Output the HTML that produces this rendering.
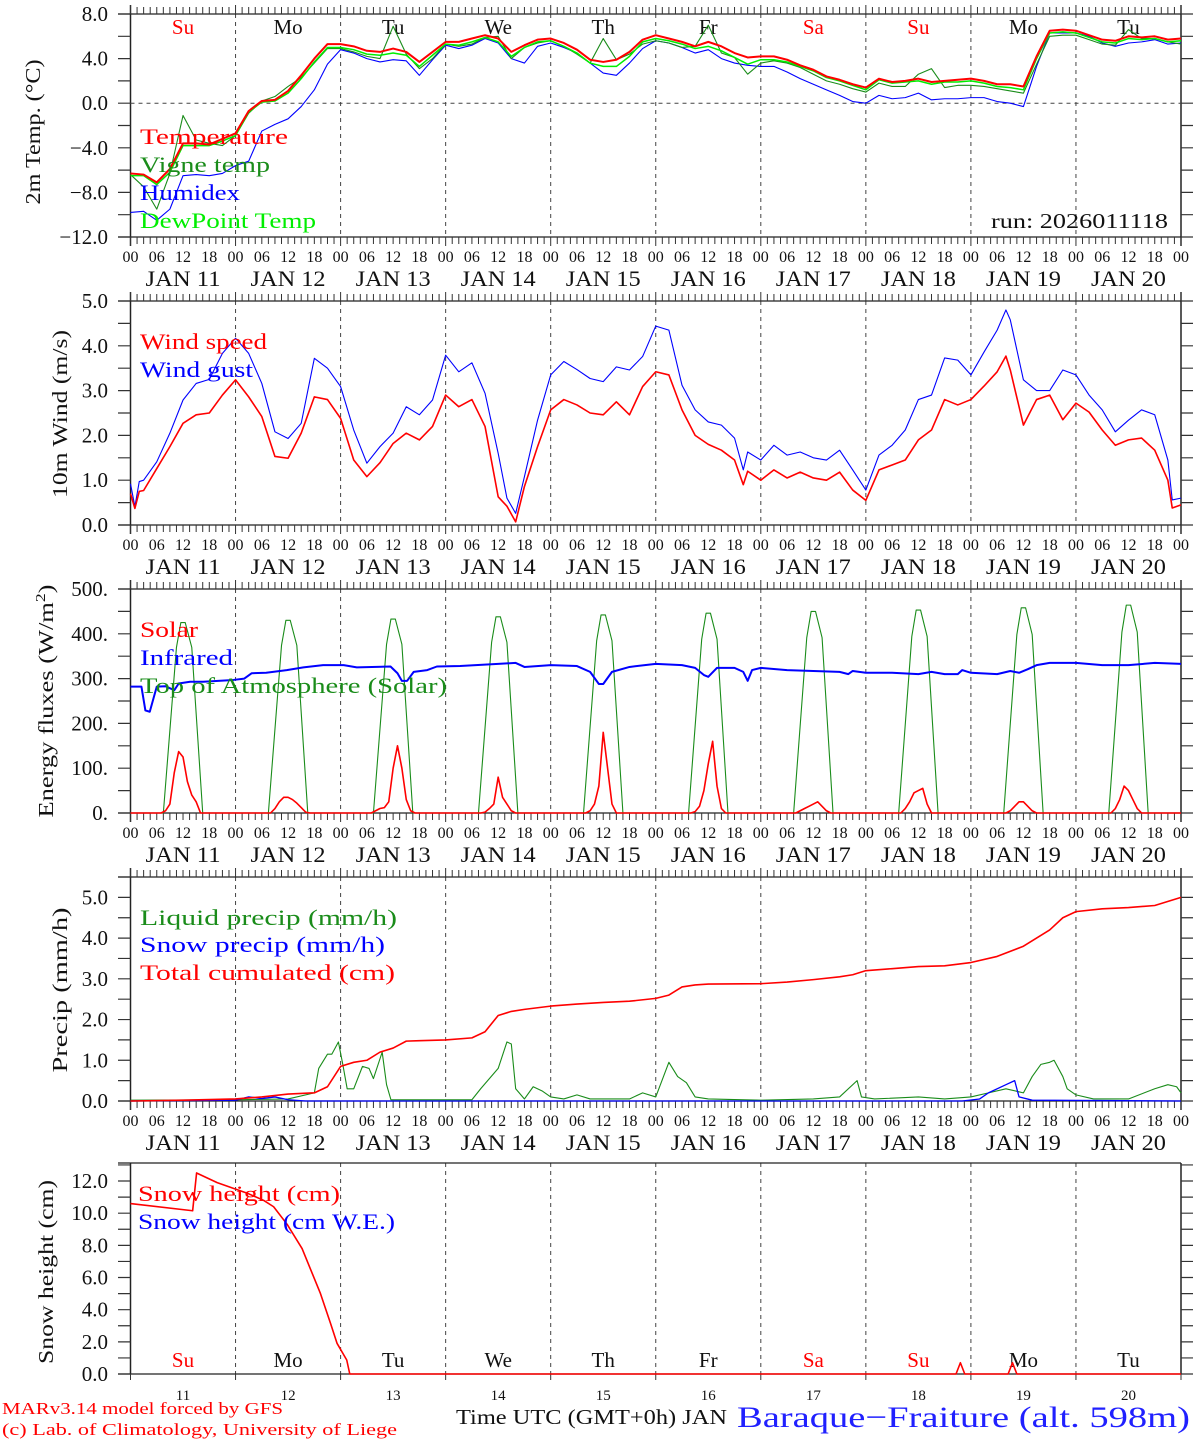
<!DOCTYPE html>
<html><head><meta charset="utf-8"><title>MAR forecast Baraque-Fraiture</title>
<style>
html,body{margin:0;padding:0;background:#fff;}
svg{display:block;font-family:"Liberation Serif",serif;}
</style></head>
<body>
<svg id="chart" width="1194" height="1440" viewBox="0 0 1194 1440" xmlns="http://www.w3.org/2000/svg">
<rect x="0" y="0" width="1194" height="1440" fill="#fff"/>
</svg>
<script>
// ---------- DATA ----------
const dayDates = ["11","12","13","14","15","16","17","18","19","20"];
const dayNames = ["Su","Mo","Tu","We","Th","Fr","Sa","Su","Mo","Tu"];
const dayNameRed = [true,false,false,false,false,false,true,true,false,false];
const hourLabels = ["00","06","12","18"];

// Panel 1: temperatures, 3-hourly from 0 to 240 h
const tempHours = [0,3,6,9,12,15,18,21,24,27,30,33,36,39,42,45,48,51,54,57,60,63,66,69,72,75,78,81,84,87,90,93,96,99,102,105,108,111,114,117,120,123,126,129,132,135,138,141,144,147,150,153,156,159,162,165,168,171,174,177,180,183,186,189,192,195,198,201,204,207,210,213,216,219,222,225,228,231,234,237,240];
const tempVals = [-6.3,-6.4,-7.1,-5.9,-3.6,-3.6,-3.7,-3.2,-2.7,-0.7,0.2,0.3,1.1,2.5,4.0,5.3,
 5.3,5.1,4.7,4.6,4.9,4.6,3.7,4.6,5.5,5.5,5.8,6.1,5.8,4.6,5.2,5.7,5.8,5.4,4.8,3.9,3.7,3.9,4.6,5.7,6.1,5.8,5.5,5.1,5.5,5.1,4.5,4.1,
 4.2,4.2,3.9,3.4,3.0,2.4,2.1,1.7,1.4,2.2,1.9,2.0,2.2,1.9,2.0,2.1,2.2,2.0,1.7,1.7,1.5,4.2,6.5,6.6,6.5,6.1,5.7,5.6,6.0,5.9,6.0,5.7,5.8];
const vigneVals = [-6.4,-7.5,-9.5,-6.3,-1.1,-3.3,-3.6,-3.8,-2.9,-0.9,0.2,0.6,1.5,2.3,3.6,4.9,
 4.9,4.6,4.2,4.0,6.9,4.4,3.1,4.0,5.3,5.1,5.3,5.9,6.0,4.0,5.0,5.4,5.6,5.1,4.4,3.6,5.8,3.9,4.4,5.3,5.6,5.4,5.0,5.1,7.0,4.5,4.1,2.6,
 3.6,3.8,3.6,3.2,2.6,2.0,1.7,1.3,1.0,1.8,1.5,1.5,2.6,3.1,1.4,1.6,1.6,1.5,1.3,1.1,0.9,3.5,6.0,6.1,6.1,5.7,5.3,5.2,6.6,5.8,5.8,5.5,5.3];
const humidexVals = [-9.8,-9.7,-10.5,-9.5,-6.5,-6.4,-6.5,-6.3,-5.6,-5.2,-2.5,-1.9,-1.4,-0.3,1.2,3.5,
 4.8,4.5,4.0,3.7,3.9,3.8,2.5,3.9,5.2,4.9,5.2,5.8,5.4,4.0,3.6,5.1,5.4,5.0,4.5,3.6,2.7,2.5,3.6,4.9,5.6,5.4,5.0,4.5,4.8,4.0,3.6,3.4,
 3.3,3.3,2.8,2.2,1.7,1.2,0.7,0.15,0.0,0.7,0.4,0.5,0.9,0.3,0.4,0.4,0.5,0.5,0.15,0.0,-0.3,3.3,6.3,6.3,6.3,6.0,5.4,5.1,5.4,5.5,5.7,5.3,5.4];
const dewVals = [-6.5,-6.5,-7.3,-6.2,-3.8,-3.8,-3.8,-3.4,-2.9,-0.8,0.1,0.2,0.9,2.2,3.7,5.0,
 5.0,4.8,4.4,4.3,4.5,4.3,3.3,4.3,5.3,5.2,5.5,5.9,5.5,4.2,5.0,5.5,5.6,5.1,4.5,3.6,3.3,3.3,4.2,5.5,5.8,5.6,5.3,4.9,5.1,4.7,4.1,3.5,
 3.9,3.9,3.7,3.3,2.9,2.3,2.0,1.6,1.2,2.1,1.8,1.9,2.0,1.7,1.9,1.9,2.0,1.8,1.5,1.4,1.2,4.0,6.3,6.4,6.3,5.9,5.5,5.4,5.8,5.7,5.8,5.5,5.6];
const tempTicks = [-12,-8,-4,0,4,8];
const tempTickLabels = ["\u221212.0","\u22128.0","\u22124.0","0.0","4.0","8.0"];

// Panel 2: wind
const windHours = [0,1,2,3,6,9,12,15,18,21,24,27,30,33,36,39,42,45,48,51,54,57,60,63,66,69,72,75,78,81,84,86,88,90,93,96,99,102,105,108,111,114,117,120,123,126,129,132,135,138,140,141,144,147,150,153,156,159,162,165,168,171,174,177,180,183,186,189,192,195,198,200,201,204,207,210,213,216,219,222,225,228,231,234,237,238,240];
const windSpeed = [0.7,0.37,0.75,0.77,1.26,1.75,2.27,2.46,2.5,2.9,3.24,2.86,2.42,1.53,1.49,2.05,2.86,2.8,2.38,1.45,1.08,1.39,1.82,2.05,1.9,2.2,2.9,2.64,2.8,2.2,0.63,0.42,0.07,0.86,1.75,2.57,2.8,2.68,2.5,2.46,2.75,2.46,3.09,3.42,3.35,2.57,2.0,1.8,1.67,1.45,0.9,1.2,1.0,1.23,1.05,1.18,1.05,1.0,1.18,0.78,0.55,1.23,1.34,1.45,1.9,2.12,2.8,2.68,2.8,3.1,3.42,3.77,3.46,2.23,2.8,2.9,2.35,2.72,2.52,2.12,1.78,1.9,1.94,1.67,1.0,0.38,0.45];
const windGust = [0.92,0.41,0.97,1.0,1.41,2.05,2.79,3.16,3.25,3.83,4.17,3.83,3.16,2.08,1.93,2.27,3.72,3.5,3.09,2.12,1.38,1.75,2.05,2.64,2.46,2.79,3.79,3.42,3.62,2.94,1.6,0.6,0.26,1.08,2.34,3.35,3.65,3.47,3.27,3.2,3.53,3.46,3.76,4.44,4.35,3.12,2.57,2.3,2.23,1.94,1.23,1.63,1.45,1.78,1.56,1.63,1.5,1.45,1.67,1.23,0.78,1.56,1.78,2.12,2.8,2.9,3.73,3.68,3.35,3.86,4.35,4.8,4.58,3.24,3.0,3.0,3.46,3.35,2.9,2.57,2.08,2.34,2.57,2.46,1.45,0.56,0.6];
const windTicks = [0,1,2,3,4,5];
const windTickLabels = ["0.0","1.0","2.0","3.0","4.0","5.0"];

// Panel 3: energy fluxes
const solarHours = [7,8,9,10,11,12,13,14,15,16,17];
const solarDay11 = [0,5,20,90,137,125,70,40,25,0,0];
const solarDay12 = [0,0,10,25,35,35,30,22,12,2,0];
const solarDay13 = [0,5,10,12,25,100,150,100,30,5,0];
const solarDay14 = [0,0,2,10,20,80,35,20,5,0,0];
const solarDay15 = [0,0,5,20,60,180,100,20,0,0,0];
const solarDay16 = [0,0,3,15,50,110,160,60,10,0,0];
const solarDay17 = [0,0,5,10,15,20,25,15,5,0,0];
const solarDay18 = [0,0,10,25,45,50,55,20,0,0,0];
const solarDay19 = [0,0,5,15,25,25,15,5,0,0,0];
const solarDay20 = [0,0,10,30,60,50,30,10,0,0,0];
const toaPeak = [425,430,433,438,442,446,450,453,458,464];
const toaProfileHours = [7.5,10.5,11.5,12.5,14,16.5];
const toaProfile = [0,0.87,1,1,0.87,0];
const irHours = [0,2.5,3.4,4.4,6,8,10,11,13.6,16.6,23.5,26,27.7,31,35.7,39.5,44,48.7,51.7,59.4,61,62,63.2,64.7,67.8,70,75.3,84,88,90,96,102,105,107,108,110,114,120,126,129,131,132,134,138,140,141,142,144,150,156,162,164,165,168,174,180,183,186,189,190,192,198,201,203,205,207,210,216,222,228,234,240];
const irVals = [282,282,229,226,282,283,274,289,293,293,297,300,312,313,319,325,330,330,325,327,312,295,295,315,319,327,328,333,335,326,330,328,315,288,288,315,326,333,330,324,308,304,324,324,315,295,319,324,319,317,315,310,317,313,313,310,315,310,310,319,313,310,317,313,321,330,335,335,330,330,335,333];
const energyTicks = [0,100,200,300,400,500];
const energyTickLabels = ["0.","100.","200.","300.","400.","500."];

// Panel 4: precip
const cumHours = [0,12,24,30,36,42,45,48,51,54,57,60,63,66,72,78,81,84,87,90,96,102,108,114,120,123,126,129,132,144,150,156,162,165,168,174,180,186,192,198,204,207,210,213,216,222,228,234,240];
const cumVals = [0,0.02,0.05,0.1,0.17,0.2,0.35,0.85,0.95,1.0,1.2,1.3,1.47,1.48,1.5,1.55,1.7,2.1,2.2,2.25,2.33,2.38,2.42,2.45,2.52,2.6,2.8,2.85,2.87,2.88,2.92,2.98,3.05,3.1,3.2,3.25,3.3,3.32,3.4,3.55,3.8,4.0,4.2,4.5,4.65,4.72,4.75,4.8,5.0];
const liqHours = [0,24,36,42,43,45,46,47.5,48.5,49.5,51,53,54.5,55.5,57.5,58.5,59.5,78,80,84,86,87,88,90,92,94,96,99,102,105,108,114,117,120,123,125,127,129,132,144,156,162,166,167,170,180,186,192,196,200,204,206,208,210,211,213,214,216,220,228,234,237,239,240];
const liqVals = [0.02,0.03,0.05,0.2,0.8,1.15,1.15,1.45,0.9,0.3,0.3,0.85,0.8,0.55,1.2,0.4,0.03,0.03,0.3,0.8,1.45,1.4,0.3,0.05,0.35,0.25,0.1,0.05,0.15,0.05,0.05,0.05,0.2,0.1,0.95,0.6,0.45,0.1,0.05,0.02,0.05,0.1,0.5,0.1,0.05,0.1,0.05,0.1,0.2,0.3,0.2,0.6,0.9,0.95,1.0,0.6,0.3,0.15,0.05,0.05,0.3,0.4,0.35,0.2];
const snowPrHours = [0,24,27,30,33,36,40,190,194,196,200,202,203,206,240];
const snowPrVals = [0,0.02,0.1,0.06,0.1,0.03,0,0,0.05,0.2,0.4,0.5,0.1,0.02,0];
const precipTicks = [0,1,2,3,4,5];
const precipTickLabels = ["0.0","1.0","2.0","3.0","4.0","5.0"];

// Panel 5: snow height
const shHours = [0,14.2,15.1,19.8,26.6,30.4,32.7,35.8,39.2,43.4,45.7,47.2,49.4,50.1,188.6,189.6,190.6,200.5,201.5,202.5,240];
const shVals = [10.6,10.15,12.5,11.9,11.25,10.8,10.4,9.3,7.8,5.0,3.15,1.9,0.87,0,0,0.7,0,0,0.7,0,0];
const snowTicks = [0,2,4,6,8,10,12];
const snowTickLabels = ["0.0","2.0","4.0","6.0","8.0","10.0","12.0"];

// ---------- RENDER ----------
const NS = "http://www.w3.org/2000/svg";
const svg = document.getElementById("chart");
const X0 = 130.5, XW = 1050.5, XR = X0 + XW;
function xOf(h){ return X0 + h * XW / 240; }
function mk(tag, attrs, parent){
  const e = document.createElementNS(NS, tag);
  for (const k in attrs) e.setAttribute(k, attrs[k]);
  (parent || svg).appendChild(e);
  return e;
}
function txt(s, attrs, parent){ const e = mk("text", attrs, parent); e.textContent = s; return e; }

const panels = [
  {top:14, bot:237, min:-12, max:8},
  {top:301, bot:525, min:0, max:5},
  {top:589, bot:813, min:0, max:500},
  {top:877, bot:1101, min:0, max:5.5},
  {top:1163, bot:1374, min:0, max:13.12}
];
function yOf(p, v){ return p.bot - (v - p.min) / (p.max - p.min) * (p.bot - p.top); }

function drawLine(p, hours, vals, color, w, name){
  let d = "";
  for (let i = 0; i < hours.length; i++){
    d += (i ? "L" : "M") + xOf(hours[i]).toFixed(2) + "," + yOf(p, vals[i]).toFixed(2);
  }
  const e = mk("path", {d:d, fill:"none", stroke:color, "stroke-width":w, "stroke-linejoin":"round"});
  
  
  return e;
}

function drawFrame(p, idx, opts){
  const g = mk("g", {});
  
  
  for (let d = 1; d < 10; d++){
    const x = xOf(d*24);
    const l = mk("line", {x1:x, x2:x, y1:p.top, y2:p.bot, stroke:"#444", "stroke-width":1, "stroke-dasharray":"4,4"}, g);
    
    
  }
  mk("line", {x1:118, x2:XR, y1:p.top, y2:p.top, stroke:"#222", "stroke-width":1.2}, g);
  mk("line", {x1:118, x2:XR, y1:p.bot, y2:p.bot, stroke:"#222", "stroke-width":1.2}, g);
  const yt = opts.tickbars ? p.top - 9 : p.top;
  const yb = opts.tickbars ? p.bot + 9 : p.bot;
  mk("line", {x1:X0, x2:X0, y1:yt, y2:yb, stroke:"#222", "stroke-width":1.5}, g);
  mk("line", {x1:XR, x2:XR, y1:yt, y2:yb, stroke:"#222", "stroke-width":1.5}, g);
  if (opts.tickbars){
    let d = "";
    for (let i = 0; i <= 160; i++){
      const x = xOf(i*1.5).toFixed(2);
      const major = (i % 16 === 0);
      d += "M" + x + "," + (p.top - (major ? 9 : 7)) + "V" + p.top;
      d += "M" + x + "," + p.bot + "V" + (p.bot + (major ? 9 : 7));
    }
    mk("path", {d:d, stroke:"#333", "stroke-width":1, fill:"none"}, g);
  } else {
    let d = "";
    for (let i = 0; i <= 10; i++){ const x = xOf(i*24).toFixed(2); d += "M" + x + "," + p.bot + "V" + (p.bot + 6); }
    mk("path", {d:d, stroke:"#333", "stroke-width":1, fill:"none"}, g);
  }
  let d = "";
  for (let v = opts.minorStart; v <= opts.maxTick + 1e-9; v += opts.minorStep){
    const y = yOf(p, v).toFixed(2);
    d += "M118," + y + "H" + X0 + "M" + XR + "," + y + "H1193";
  }
  mk("path", {d:d, stroke:"#333", "stroke-width":1.2, fill:"none"}, g);
  for (let i = 0; i < opts.ticks.length; i++){
    const t = txt(opts.labels[i], {x:108, y:yOf(p, opts.ticks[i]) + 7, "text-anchor":"end", "font-size":21, fill:"#111"});
    
    
  }
  if (opts.hourLabels){
    for (let i = 0; i <= 40; i++){
      const t = txt(hourLabels[i % 4], {x:xOf(i*6), y:p.bot + 25, "text-anchor":"middle", "font-size":16, fill:"#111"});
      
      
    }
    for (let dd = 0; dd < 10; dd++){
      const t = txt("JAN " + dayDates[dd], {x:xOf(dd*24+12), y:p.bot + 49, "text-anchor":"middle", "font-size":22, fill:"#111", textLength:75, lengthAdjust:"spacingAndGlyphs"});
      
      
    }
  }
}

function yTitle(s, x, cy, len, extra){
  const t = txt(s, {x:0, y:0, "text-anchor":"middle", "font-size":21, fill:"#111", transform:"translate(" + x + "," + cy + ") rotate(-90)", textLength:len, lengthAdjust:"spacingAndGlyphs"});
  
  
  return t;
}
function legend(s, x, y, len, color, name){
  const t = txt(s, {x:x, y:y, "font-size":22, fill:color, textLength:len, lengthAdjust:"spacingAndGlyphs"});
  
  
  return t;
}
function dayNamesRow(y){
  for (let d = 0; d < 10; d++){
    const t = txt(dayNames[d], {x:xOf(d*24+12), y:y, "text-anchor":"middle", "font-size":21, fill: dayNameRed[d] ? "#ff0000" : "#111"});
    
    
  }
}

// Panel 1
const P1 = panels[0];
drawFrame(P1, 0, {tickbars:true, ticks:tempTicks, labels:tempTickLabels, minorStart:-12, minorStep:2, maxTick:8, hourLabels:true});
const zl = mk("line", {x1:X0, x2:XR, y1:yOf(P1,0), y2:yOf(P1,0), stroke:"#444", "stroke-width":1, "stroke-dasharray":"4,4"});


dayNamesRow(34);
drawLine(P1, tempHours, humidexVals, "#0000ff", 1.1, "humidex-line");
drawLine(P1, tempHours, vigneVals, "#1a8c1a", 1.1, "vigne-temp-line");
drawLine(P1, tempHours, dewVals, "#00ee00", 1.5, "dewpoint-line");
drawLine(P1, tempHours, tempVals, "#ff0000", 2, "temperature-line");
legend("Temperature", 140, 144, 148, "#ff0000", "legend-temperature");
legend("Vigne temp", 140, 172, 130, "#1a8c1a", "legend-vigne-temp");
legend("Humidex", 140, 200, 100, "#0000ff", "legend-humidex");
legend("DewPoint Temp", 140, 228, 176, "#00ee00", "legend-dewpoint");
const run = txt("run: 2026011118", {x:1168, y:228, "text-anchor":"end", "font-size":21, fill:"#111", textLength:177, lengthAdjust:"spacingAndGlyphs"});


yTitle("2m Temp. (\u00B0C)", 40, 132, 145, "y-axis-title-temp");

// Panel 2
const P2 = panels[1];
drawFrame(P2, 1, {tickbars:true, ticks:windTicks, labels:windTickLabels, minorStart:0, minorStep:0.5, maxTick:5, hourLabels:true});
drawLine(P2, windHours, windGust, "#0000ff", 1.1, "wind-gust-line");
drawLine(P2, windHours, windSpeed, "#ff0000", 1.6, "wind-speed-line");
legend("Wind speed", 140, 349, 127, "#ff0000", "legend-wind-speed");
legend("Wind gust", 140, 377, 113, "#0000ff", "legend-wind-gust");
yTitle("10m Wind (m/s)", 67, 414, 168, "y-axis-title-wind");

// Panel 3
const P3 = panels[2];
drawFrame(P3, 2, {tickbars:true, ticks:energyTicks, labels:energyTickLabels, minorStart:0, minorStep:50, maxTick:500, hourLabels:true});
const toaH = [], toaV = [], solH = [], solV = [];
const solarDays = [solarDay11,solarDay12,solarDay13,solarDay14,solarDay15,solarDay16,solarDay17,solarDay18,solarDay19,solarDay20];
toaH.push(0); toaV.push(0); solH.push(0); solV.push(0);
for (let d = 0; d < 10; d++){
  for (let k = 0; k < toaProfileHours.length; k++){ toaH.push(d*24 + toaProfileHours[k]); toaV.push(toaPeak[d] * toaProfile[k]); }
  for (let k = 0; k < solarHours.length; k++){ solH.push(d*24 + solarHours[k]); solV.push(solarDays[d][k]); }
}
toaH.push(240); toaV.push(0); solH.push(240); solV.push(0);
drawLine(P3, toaH, toaV, "#1a8c1a", 1.1, "toa-solar-line");
drawLine(P3, solH, solV, "#ff0000", 1.6, "solar-line");
drawLine(P3, irHours, irVals, "#0000ff", 2, "infrared-line");
legend("Solar", 140, 637, 58, "#ff0000", "legend-solar");
legend("Infrared", 140, 665, 93, "#0000ff", "legend-infrared");
legend("Top of Atmosphere (Solar)", 140, 693, 307, "#1a8c1a", "legend-toa");
const et = txt("", {x:0, y:0, "text-anchor":"middle", "font-size":21, fill:"#111", transform:"translate(53,701) rotate(-90)", textLength:233, lengthAdjust:"spacingAndGlyphs"});


const t1 = document.createElementNS(NS, "tspan"); t1.textContent = "Energy fluxes (W/m"; et.appendChild(t1);
const t2 = document.createElementNS(NS, "tspan"); t2.textContent = "2"; t2.setAttribute("dy", "-8"); t2.setAttribute("font-size", "14"); et.appendChild(t2);
const t3 = document.createElementNS(NS, "tspan"); t3.textContent = ")"; t3.setAttribute("dy", "8"); et.appendChild(t3);

// Panel 4
const P4 = panels[3];
drawFrame(P4, 3, {tickbars:true, ticks:precipTicks, labels:precipTickLabels, minorStart:0, minorStep:0.5, maxTick:5.5, hourLabels:true});
drawLine(P4, liqHours, liqVals, "#1a8c1a", 1.1, "liquid-precip-line");
drawLine(P4, snowPrHours, snowPrVals, "#0000ff", 1.3, "snow-precip-line");
drawLine(P4, cumHours, cumVals, "#ff0000", 1.6, "total-cumulated-line");
legend("Liquid precip (mm/h)", 140, 925, 257, "#1a8c1a", "legend-liquid-precip");
legend("Snow precip (mm/h)", 140, 952, 245, "#0000ff", "legend-snow-precip");
legend("Total cumulated (cm)", 140, 980, 255, "#ff0000", "legend-total-cumulated");
yTitle("Precip (mm/h)", 67, 990, 165, "y-axis-title-precip");

// Panel 5
const P5 = panels[4];
drawFrame(P5, 4, {tickbars:false, ticks:snowTicks, labels:snowTickLabels, minorStart:0, minorStep:1, maxTick:13, hourLabels:false});
dayNamesRow(1367);
for (let d = 0; d < 10; d++){
  const t = txt(dayDates[d], {x:xOf(d*24+12), y:1400, "text-anchor":"middle", "font-size":15, fill:"#111"});
  
  
}
drawLine(P5, shHours, shVals, "#ff0000", 1.6, "snow-height-line");
legend("Snow height (cm)", 138, 1201, 202, "#ff0000", "legend-snow-height");
legend("Snow height (cm W.E.)", 138, 1229, 257, "#0000ff", "legend-snow-height-we");
yTitle("Snow height (cm)", 53, 1272, 184, "y-axis-title-snow");

// Footer
const f1 = txt("MARv3.14 model forced by GFS", {x:2, y:1414, "font-size":17, fill:"#ff0000", textLength:281, lengthAdjust:"spacingAndGlyphs"});


const f2 = txt("(c) Lab. of Climatology, University of Liege", {x:2, y:1435, "font-size":17, fill:"#ff0000", textLength:395, lengthAdjust:"spacingAndGlyphs"});


const f3 = txt("Time UTC (GMT+0h) JAN", {x:456, y:1424, "font-size":21, fill:"#111", textLength:271, lengthAdjust:"spacingAndGlyphs"});


const f4 = txt("Baraque\u2212Fraiture (alt. 598m)", {x:737, y:1427, "font-size":30, fill:"#2020ff", textLength:453, lengthAdjust:"spacingAndGlyphs"});


</script>
</body></html>
